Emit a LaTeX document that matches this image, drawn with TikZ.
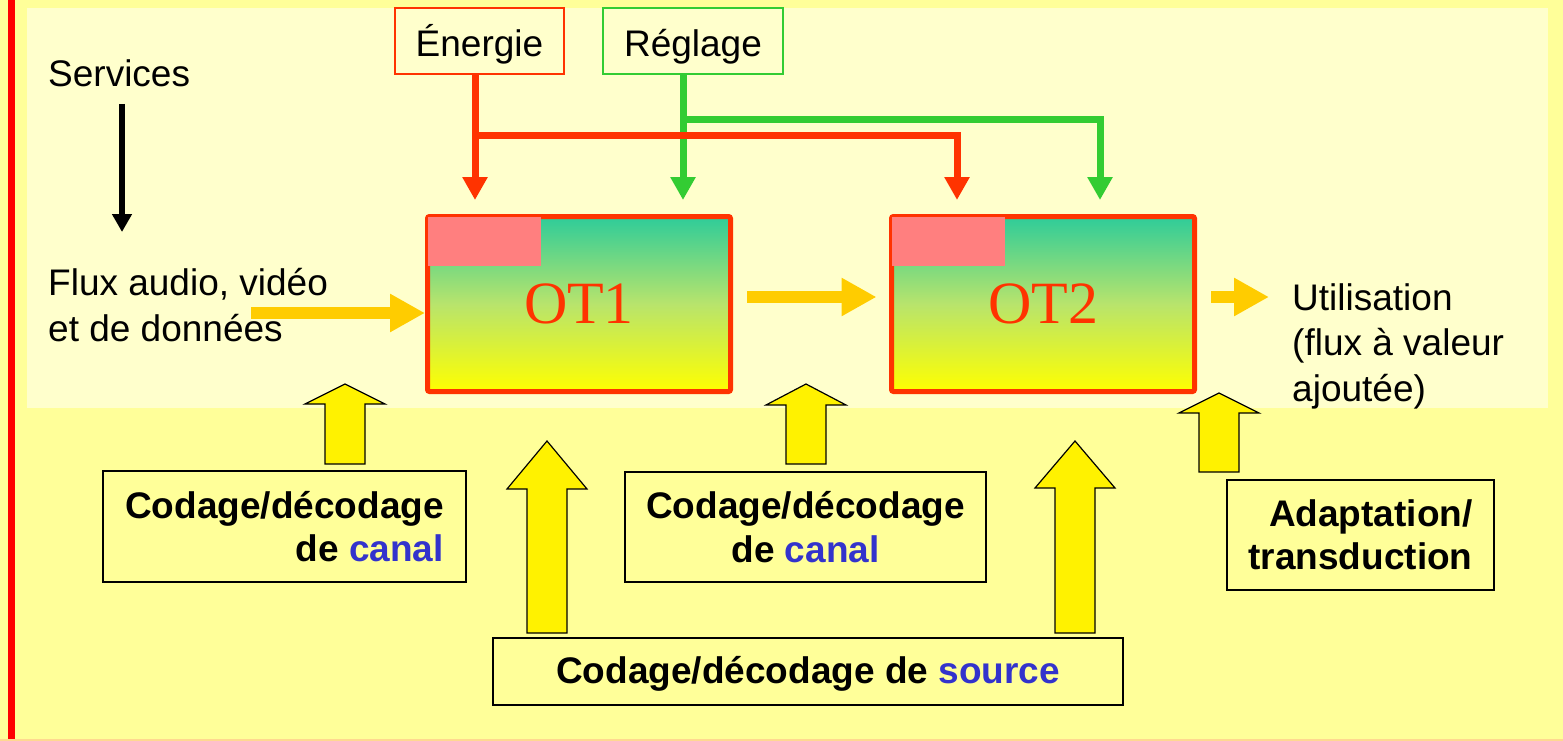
\documentclass[tikz,border=0pt]{standalone}
\usepackage{fontspec}
\setmainfont{Liberation Sans}
\newfontfamily\timesf{Liberation Serif}
\usetikzlibrary{arrows.meta}
\definecolor{bgouter}{HTML}{FFFF99}
\definecolor{bginner}{HTML}{FFFFCC}
\definecolor{otred}{HTML}{FF3300}
\definecolor{grn}{HTML}{33CC33}
\definecolor{pinkc}{HTML}{FF7F7F}
\definecolor{tealc}{HTML}{2ECC99}
\definecolor{midc}{HTML}{B8E46C}
\definecolor{orangec}{HTML}{FFCC00}
\definecolor{bluec}{HTML}{3333CC}
\definecolor{edgec}{HTML}{FFD890}
\newcommand{\blockup}[4]{% x center, tip y, head base y, bottom y
  \filldraw[blockarrow] (#1-20,#4) -- (#1-20,#3) -- (#1-40,#3) -- (#1,#2) -- (#1+40,#3) -- (#1+20,#3) -- (#1+20,#4) -- cycle;}
\begin{document}
\begin{tikzpicture}[x=1pt,y=-1pt,
  txt/.style={font=\fontsize{37}{45.5}\selectfont, inner sep=0pt},
  boldtxt/.style={font=\fontsize{37}{43.5}\selectfont\bfseries, inner sep=0pt},
  topbox/.style={draw, line width=1.5pt, minimum height=66pt, text height=40pt, text depth=8pt, font=\fontsize{37}{45}\selectfont, inner sep=0pt},
  otbox/.style={draw=otred, line width=5pt, rounded corners=2pt, outer sep=0pt,
     minimum width=303pt, minimum height=175pt,
     top color=tealc, bottom color=yellow, middle color=midc,
     font=\timesf\fontsize{60}{62}\selectfont, text=otred, inner sep=0pt},
  labbox/.style={draw, line width=1.3pt},
  feed/.style={line width=7pt, -{Triangle[length=23pt,width=24pt]}},
  flow/.style={draw=orangec, line width=12pt, -{Triangle[length=35pt,width=36pt]}},
  blockarrow/.style={fill=yellow, draw=black, line width=1.2pt, line join=miter}
]
\useasboundingbox (0,0) rectangle (1563,741);
% background
\fill[bgouter] (0,0) rectangle (1563,741);
\fill[bginner] (27,8) rectangle (1548,408);
\fill[red] (8,0) rectangle (15,741);
\fill[edgec] (0,738.5) rectangle (1563,741);

% top text
\node[txt, anchor=base west] (services) at (48,87) {Services};
\coordinate (servstart) at (122,104);
\coordinate (servend) at (122,232);
\draw[line width=6pt, -{Triangle[length=18pt,width=19pt]}] (servstart) -- (servend);

\node[txt, anchor=base west, align=left] (flux) at (48,341) {Flux audio, vidéo\\et de données};
\node[txt, anchor=base west, align=left] (util) at (1292,401) {Utilisation\\(flux à valeur\\ajoutée)};

% Energie / Reglage
\node[topbox, draw=otred, minimum width=169pt] (energie) at (479.5,41) {Énergie};
\node[topbox, draw=grn, minimum width=180pt] (reglage) at (693,41) {Réglage};

% OT boxes
\node[otbox] (ot1) at (579,304) {OT1};
\node[otbox] (ot2) at (1043,304) {OT2};
\fill[pinkc] (ot1.north west) rectangle ++(113,49);
\fill[pinkc] (ot2.north west) rectangle ++(113,49);

% feed lines
\coordinate (rbranch) at (475,136);
\coordinate (gbranch) at (683,120);
\coordinate (ot1e) at (475,200);
\coordinate (ot1g) at (683,200);
\coordinate (ot2e) at (957,200);
\coordinate (ot2g) at (1100,200);
\draw[feed, draw=grn] ([xshift=-10pt]reglage.south) -- (ot1g);
\draw[feed, draw=grn] (gbranch) -| (ot2g);
\draw[feed, draw=otred] ([xshift=-4.5pt]energie.south) -- (ot1e);
\draw[feed, draw=otred] (rbranch) -| (ot2e);

% orange flows
\coordinate (in0) at (251,313);
\coordinate (mid0) at (747,297);
\coordinate (out0) at (1211,297);
\coordinate (out1) at (1269,297);
\draw[flow] (in0) -- ([xshift=-2.5pt]in0 -| ot1.west);
\draw[flow] (mid0) -- ([xshift=-15pt]mid0 -| ot2.west);
\draw[flow] (out0) -- (out1);

% label boxes
\node[labbox, boldtxt, minimum width=363pt, minimum height=111pt, align=right] (canal1) at (284.5,526.5) {Codage/décodage\\de \textcolor{bluec}{canal}};
\node[labbox, boldtxt, minimum width=361pt, minimum height=110pt, align=center] (canal2) at (805.5,527) {Codage/décodage\\de \textcolor{bluec}{canal}};
\node[labbox, boldtxt, minimum width=630pt, minimum height=67pt, text height=27pt, text depth=4pt] (source) at (808,671.5) {Codage/décodage de \textcolor{bluec}{source}};
\node[labbox, boldtxt, minimum width=267pt, minimum height=110pt, align=right] (adapt) at (1360.5,535) {Adaptation/\\transduction};

% block arrows
\blockup{345}{384}{404}{464}
\blockup{547}{441}{489}{633}
\blockup{806}{384}{405}{464}
\blockup{1075}{441}{488}{633}
\blockup{1219}{393}{413}{472}
\end{tikzpicture}
\end{document}
